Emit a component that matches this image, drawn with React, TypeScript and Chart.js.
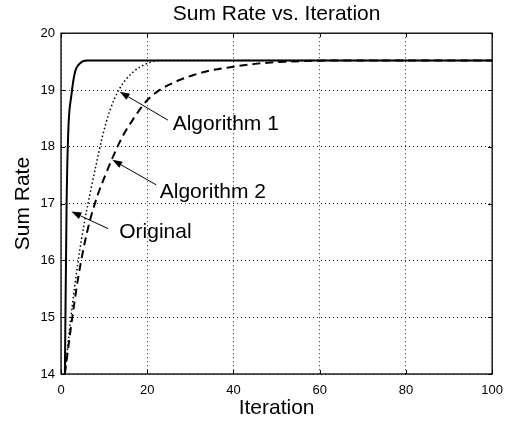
import React, { useEffect, useRef } from 'react';
import { Chart, registerables } from 'chart.js';

Chart.register(...registerables);

const FONT = "'Liberation Sans', Arial, Helvetica, sans-serif";

// Original (solid)
const originalX = [0.9, 1.3, 1.7, 2.4, 3.2, 4.4, 6, 100];
const originalY = [14, 17.0, 18.3, 18.9, 19.3, 19.47, 19.52, 19.52];

// Algorithm 1 (dotted)
const alg1X = [0.9, 2.3, 4.0, 5.5, 6.8, 8.2, 9.6, 11.3, 13.4, 16.5, 19.5, 23, 100];
const alg1Y = [14, 15.0, 16.0, 16.7, 17.2, 17.7, 18.18, 18.63, 19.0, 19.3, 19.45, 19.52, 19.52];

// Algorithm 2 (dashed)
const alg2X = [0.9, 2, 3, 4, 5.2, 6.7, 8.5, 10, 12.2, 14.4, 16.6, 20, 22.5, 26.7, 30.6, 34.4, 40, 45, 50, 56, 63, 100];
const alg2Y = [14, 14.65, 15.2, 15.7, 16.2, 16.7, 17.15, 17.45, 17.85, 18.2, 18.47, 18.82, 18.98, 19.15, 19.26, 19.34, 19.41, 19.46, 19.49, 19.51, 19.52, 19.52];

const xTicks = [0, 20, 40, 60, 80, 100];
const yTicks = [14, 15, 16, 17, 18, 19, 20];

const noteLabels = ['Algorithm 1', 'Algorithm 2', 'Original'];
const noteTipX = [13.6, 11.9, 2.4];
const noteTipY = [18.97, 17.77, 16.86];
const noteTailX = [24.8, 22.1, 10.9];
const noteTailY = [18.47, 17.33, 16.56];
const noteTextX = [25.9, 22.9, 13.5];
const noteTextY = [18.29, 17.09, 16.39];

const toPts = (xs: number[], ys: number[]) => xs.map((x, i) => ({ x, y: ys[i] }));

const framePlugin = {
  id: 'matlabFrame',
  afterDraw(chart: any) {
    const { ctx, chartArea: a, scales } = chart;
    const xs = scales.x;
    const ys = scales.y;
    ctx.save();
    ctx.setLineDash([]);
    ctx.strokeStyle = '#000';
    ctx.lineWidth = 1;
    const tl = 4;
    xTicks.forEach((v) => {
      const px = Math.round(xs.getPixelForValue(v)) + 0.5;
      ctx.beginPath();
      ctx.moveTo(px, a.bottom);
      ctx.lineTo(px, a.bottom - tl);
      ctx.moveTo(px, a.top);
      ctx.lineTo(px, a.top + tl);
      ctx.stroke();
    });
    yTicks.forEach((v) => {
      const py = Math.round(ys.getPixelForValue(v)) + 0.5;
      ctx.beginPath();
      ctx.moveTo(a.left, py);
      ctx.lineTo(a.left + tl, py);
      ctx.moveTo(a.right, py);
      ctx.lineTo(a.right - tl, py);
      ctx.stroke();
    });
    ctx.lineWidth = 1.3;
    ctx.strokeRect(a.left, a.top, a.right - a.left, a.bottom - a.top);

    // annotations
    noteLabels.forEach((label, i) => {
      const tx = xs.getPixelForValue(noteTipX[i]);
      const ty = ys.getPixelForValue(noteTipY[i]);
      const sx = xs.getPixelForValue(noteTailX[i]);
      const sy = ys.getPixelForValue(noteTailY[i]);
      const ang = Math.atan2(ty - sy, tx - sx);
      const hl = 10;
      const hw = 3.5;
      const bx = tx - hl * Math.cos(ang);
      const by = ty - hl * Math.sin(ang);
      ctx.lineWidth = 1;
      ctx.beginPath();
      ctx.moveTo(sx, sy);
      ctx.lineTo(bx, by);
      ctx.stroke();
      ctx.beginPath();
      ctx.moveTo(tx, ty);
      ctx.lineTo(bx + hw * Math.sin(ang), by - hw * Math.cos(ang));
      ctx.lineTo(bx - hw * Math.sin(ang), by + hw * Math.cos(ang));
      ctx.closePath();
      ctx.fillStyle = '#000';
      ctx.fill();
      ctx.font = `21px ${FONT}`;
      ctx.textAlign = 'left';
      ctx.textBaseline = 'alphabetic';
      ctx.fillText(label, xs.getPixelForValue(noteTextX[i]), ys.getPixelForValue(noteTextY[i]));
    });
    ctx.restore();
  },
};

export default function App() {
  const ref = useRef<HTMLCanvasElement>(null);
  useEffect(() => {
    document.body.style.margin = '0';
    Chart.defaults.font.family = FONT;
    const chart = new Chart(ref.current as HTMLCanvasElement, {
      type: 'line',
      data: {
        datasets: [
          {
            label: 'Algorithm 2',
            data: toPts(alg2X, alg2Y),
            borderColor: '#000',
            borderWidth: 2,
            borderDash: [8, 5],
            pointRadius: 0,
            cubicInterpolationMode: 'monotone',
            fill: false,
          },
          {
            label: 'Algorithm 1',
            data: toPts(alg1X, alg1Y),
            borderColor: '#000',
            borderWidth: 1.5,
            borderDash: [1.5, 2.5],
            pointRadius: 0,
            cubicInterpolationMode: 'monotone',
            fill: false,
          },
          {
            label: 'Original',
            data: toPts(originalX, originalY),
            borderColor: '#000',
            borderWidth: 2,
            pointRadius: 0,
            cubicInterpolationMode: 'monotone',
            fill: false,
          },
        ],
      },
      options: {
        responsive: false,
        animation: false,
        layout: { padding: { left: 0, right: 18, top: 0, bottom: 0 } },
        plugins: {
          legend: { display: false },
          tooltip: { enabled: false },
          title: {
            display: true,
            fullSize: false,
            text: 'Sum Rate vs. Iteration',
            color: '#000',
            font: { size: 21, weight: 'normal' },
            padding: { top: 2, bottom: 6 },
          },
        },
        scales: {
          x: {
            type: 'linear',
            min: 0,
            max: 100,
            afterFit: (s: any) => {
              s.height = 48;
            },
            afterBuildTicks: (s: any) => {
              s.ticks = xTicks.map((v) => ({ value: v }));
            },
            ticks: { color: '#000', font: { size: 13 }, padding: 9, maxRotation: 0 },
            grid: { color: 'rgba(0,0,0,0.85)', lineWidth: 1, drawTicks: false },
            border: { display: false, dash: [1, 3] },
            title: {
              display: true,
              text: 'Iteration',
              color: '#000',
              font: { size: 21 },
              padding: { top: 0, bottom: 1 },
            },
          },
          y: {
            type: 'linear',
            min: 14,
            max: 20,
            afterFit: (s: any) => {
              s.width = 61;
            },
            afterBuildTicks: (s: any) => {
              s.ticks = yTicks.map((v) => ({ value: v }));
            },
            ticks: { color: '#000', font: { size: 13 }, padding: 6 },
            grid: { color: 'rgba(0,0,0,0.85)', lineWidth: 1, drawTicks: false },
            border: { display: false, dash: [1, 3] },
            title: {
              display: true,
              text: 'Sum Rate',
              color: '#000',
              font: { size: 21 },
              padding: { top: 11, bottom: 0 },
            },
          },
        },
      },
      plugins: [framePlugin],
    } as any);
    return () => chart.destroy();
  }, []);
  return (
    <div style={{ position: 'fixed', left: 0, top: 0, width: 512, height: 422, background: '#fff' }}>
      <canvas ref={ref} width={512} height={422} style={{ width: 512, height: 422, display: 'block' }} />
    </div>
  );
}
